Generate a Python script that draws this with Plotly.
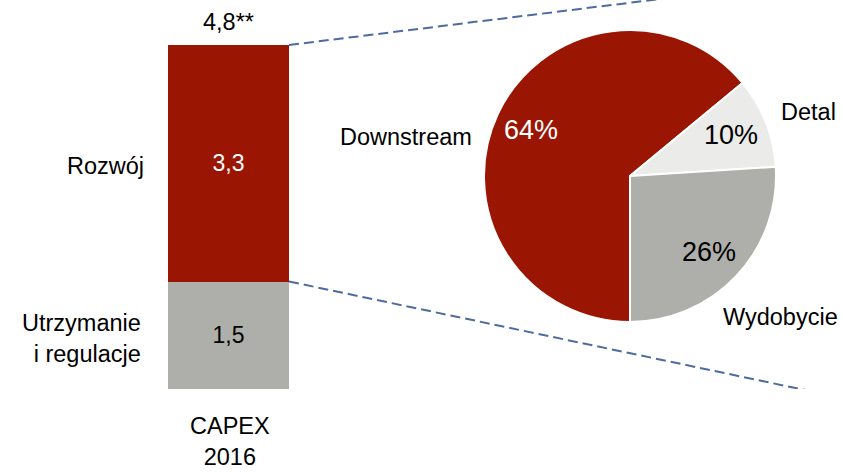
import plotly.graph_objects as go

# Data
bar_category = "CAPEX<br>2016"
segment_names = ["Utrzymanie<br>i regulacje", "Rozwój"]
segment_values = [1.5, 3.3]
total_label = "4,8**"

pie_labels = ["Downstream", "Detal", "Wydobycie"]
pie_values = [64, 10, 26]

RED = "#9B1503"
GRAY = "#AEAEAA"
LIGHT = "#EBEBEA"
FONT = "Liberation Sans, Arial, sans-serif"
LINE_COL = "#4D6C9E"
LSIZE = 23.5

W, H = 843, 474
bar_cx, bar_w = 228.5, 121
bar_bottom_px = 389
px_per_unit = 344 / 4.8

def fx(px):  # pixel -> bar x data
    return (px - bar_cx) / bar_w

def fy(py):  # pixel -> bar y data
    return (bar_bottom_px - py) / px_per_unit

def paper_x(px):
    return px / W

def paper_y(py):
    return 1 - py / H

fig = go.Figure()

seg_colors = [GRAY, RED]
seg_text_colors = ["black", "white"]
for name, val, col, tcol in zip(segment_names, segment_values, seg_colors, seg_text_colors):
    fig.add_trace(go.Bar(
        x=[0], y=[val], width=1, name=name,
        marker=dict(color=col, line=dict(width=0)),
        texttemplate="%{y:.1f}", textposition="inside", insidetextanchor="middle",
        textfont=dict(color=tcol, size=23, family=FONT),
        xaxis="x", yaxis="y", showlegend=False, hoverinfo="skip",
    ))

pc_x, pc_y, pr = 630, 176, 146
fig.add_trace(go.Pie(
    labels=pie_labels, values=pie_values, sort=False, direction="clockwise",
    rotation=180, textinfo="none",
    marker=dict(colors=[RED, LIGHT, GRAY], line=dict(color="white", width=2)),
    domain=dict(x=[paper_x(pc_x - pr), paper_x(pc_x + pr)],
                y=[paper_y(pc_y + pr), paper_y(pc_y - pr)]),
    showlegend=False, hoverinfo="skip",
))

fig.update_layout(
    width=W, height=H, margin=dict(l=0, r=0, t=0, b=0),
    paper_bgcolor="white", plot_bgcolor="rgba(0,0,0,0)",
    barmode="stack", separators=", ",
    font=dict(family=FONT, size=LSIZE, color="black"),
    xaxis=dict(domain=[0, 1], range=[-bar_cx / bar_w, (W - bar_cx) / bar_w],
               visible=False, fixedrange=True),
    yaxis=dict(domain=[1 - bar_bottom_px / H, 1], range=[0, bar_bottom_px / px_per_unit],
               visible=False, fixedrange=True),
)

total = sum(segment_values)
# dashed connector lines
fig.add_shape(type="line", xref="x", yref="y", x0=0.5, y0=total, x1=fx(668), y1=fy(-2),
              line=dict(color=LINE_COL, width=2, dash="10px,5px"))
fig.add_shape(type="line", xref="x", yref="y", x0=0.5, y0=segment_values[0], x1=fx(824), y1=fy(394),
              line=dict(color=LINE_COL, width=2, dash="10px,5px"))

def label(text, px, py, anchor="center", size=LSIZE, color="black", align="center"):
    fig.add_annotation(x=paper_x(px), y=paper_y(py), xref="paper", yref="paper", text=text,
                       showarrow=False, xanchor=anchor, yanchor="middle", align=align,
                       font=dict(family=FONT, size=size, color=color))

# total label above bar
label(total_label, 228.5, 22)

# category label under bar
label(bar_category, 230, 441)

# segment names on the left
seg_label_pos = {
    "Utrzymanie<br>i regulacje": (143, 338),
    "Rozwój": (146, 166),
}
for name in segment_names:
    px, py = seg_label_pos[name]
    label(name, px, py, anchor="right", align="right")

# pie category labels
pie_label_pos = {"Downstream": (474, 137, "right"), "Detal": (779, 112, "left"),
                 "Wydobycie": (721, 317, "left")}
pie_pct_pos = {"Downstream": (531, 130), "Detal": (731, 135), "Wydobycie": (709, 252)}
pie_pct_col = {"Downstream": "white", "Detal": "black", "Wydobycie": "black"}
for lab, val in zip(pie_labels, pie_values):
    px, py, anc = pie_label_pos[lab]
    label(lab, px, py, anchor=anc)
    qx, qy = pie_pct_pos[lab]
    label(f"{val}%", qx, qy, size=27, color=pie_pct_col[lab])

fig.write_html("out.html", config={"displayModeBar": False},
               post_script="document.body.style.margin='0';document.body.style.overflow='hidden';")
